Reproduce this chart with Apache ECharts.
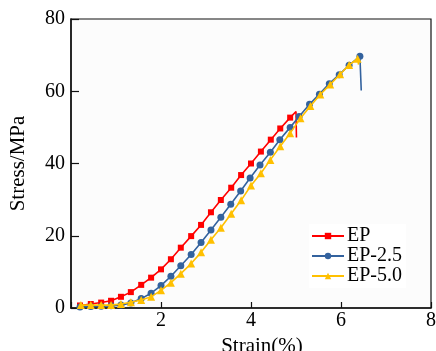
<!DOCTYPE html>
<html><head><meta charset="utf-8">
<script src="https://cdn.jsdelivr.net/npm/echarts@6/dist/echarts.min.js"></script>
<style>html,body{margin:0;padding:0;background:#fff}#c{width:436px;height:351px}</style>
</head><body><div id="c"></div>
<script>
const seriesNames = ['EP', 'EP-2.5', 'EP-5.0'];
const epStrain = [0.2,0.44,0.67,0.89,1.11,1.33,1.56,1.78,2.0,2.22,2.44,2.67,2.89,3.11,3.33,3.56,3.78,4.0,4.22,4.44,4.65,4.87,5.0,5.01];
const epStress = [0.7,1.1,1.5,2.0,3.1,4.4,6.4,8.4,10.7,13.5,16.7,19.9,23.0,26.5,29.9,33.3,36.8,40.0,43.3,46.6,49.7,52.7,54.4,47.2];
const ep25Strain = [0.2,0.44,0.67,0.89,1.11,1.33,1.56,1.78,2.0,2.22,2.44,2.67,2.89,3.11,3.33,3.55,3.77,3.98,4.2,4.43,4.64,4.87,5.07,5.3,5.52,5.74,5.96,6.18,6.42,6.45];
const ep25Stress = [0.3,0.4,0.5,0.6,0.8,1.4,2.6,4.1,6.2,8.8,11.7,14.8,18.1,21.6,25.1,28.7,32.4,36.0,39.6,43.1,46.6,50.0,53.0,56.4,59.2,62.1,64.6,67.2,69.7,60.2];
const ep50Strain = [0.22,0.44,0.67,0.89,1.11,1.33,1.56,1.78,2.0,2.22,2.44,2.67,2.89,3.11,3.33,3.56,3.78,4.0,4.22,4.43,4.65,4.87,5.1,5.32,5.54,5.76,5.98,6.18,6.37,6.39];
const ep50Stress = [0.8,0.8,0.8,0.8,1.1,1.6,2.2,3.1,4.9,7.0,9.5,12.3,15.4,18.9,22.2,26.1,29.8,33.9,37.3,41.0,44.8,48.4,52.5,55.9,59.1,61.9,64.7,67.3,69.0,67.4];
// number of trailing points (failure drop) drawn without marker
const unmarkedTail = [2, 1, 1];
const xTicks = [0, 2, 4, 6, 8];
const yTicks = [0, 20, 40, 60, 80];

const colors = ['#ff0000', '#33629e', '#ffc000'];
const symbols = ['rect', 'circle', 'triangle'];
const sizes = [6, 7, 8];
const raw = [[epStrain, epStress], [ep25Strain, ep25Stress], [ep50Strain, ep50Stress]];
const font = '"Liberation Serif", "Times New Roman", serif';

const series = raw.map((d, i) => {
  const n = d[0].length;
  return {
    name: seriesNames[i], type: 'line',
    symbol: symbols[i], symbolSize: sizes[i],
    lineStyle: {color: colors[i], width: 1.6},
    itemStyle: {color: colors[i]},
    data: d[0].map((x, k) => k >= n - unmarkedTail[i]
      ? {value: [x, d[1][k]], symbolSize: 0}
      : [x, d[1][k]]),
    z: 2 + i, animation: false
  };
});

const chart = echarts.init(document.getElementById('c'), null, {renderer: 'canvas'});
chart.setOption({
  animation: false,
  grid: {left: 71, right: 5, top: 19, bottom: 43, show: true, borderColor: '#111', borderWidth: 1.2,
    backgroundColor: '#fcfcfc', containLabel: false, outerBoundsMode: 'none'},
  legend: {
    data: seriesNames.map((n) => ({name: n})),
    orient: 'vertical', left: 309, top: 224, itemWidth: 32, itemHeight: 8, itemGap: 0,
    backgroundColor: '#fff', padding: [2, 4, 2, 2],
    textStyle: {fontFamily: font, fontSize: 20, lineHeight: 19.5, color: '#000', padding: [0, 0, 0, -2]}
  },
  xAxis: {
    type: 'value', min: xTicks[0], max: xTicks[xTicks.length - 1], interval: xTicks[1] - xTicks[0],
    name: 'Strain(%)', nameLocation: 'middle', nameGap: 23,
    nameTextStyle: {fontFamily: font, fontSize: 21, color: '#000', padding: [0, 0, 0, 22]},
    axisLine: {lineStyle: {color: '#111', width: 1.5}},
    axisTick: {inside: true, length: 6, lineStyle: {color: '#111', width: 1.2}},
    axisLabel: {fontFamily: font, fontSize: 20, color: '#000', margin: 3,
      formatter: (v) => v === 0 ? '' : String(v)},
    splitLine: {show: false}
  },
  yAxis: {
    type: 'value', min: yTicks[0], max: yTicks[yTicks.length - 1], interval: yTicks[1] - yTicks[0],
    name: 'Stress/MPa', nameLocation: 'middle', nameGap: 42,
    nameTextStyle: {fontFamily: font, fontSize: 21, color: '#000'},
    axisLine: {lineStyle: {color: '#111', width: 1.5}},
    axisTick: {inside: true, length: 8, lineStyle: {color: '#111', width: 1.2}},
    axisLabel: {fontFamily: font, fontSize: 20, color: '#000', margin: 6},
    splitLine: {show: false}
  },
  series: series
});
</script></body></html>
